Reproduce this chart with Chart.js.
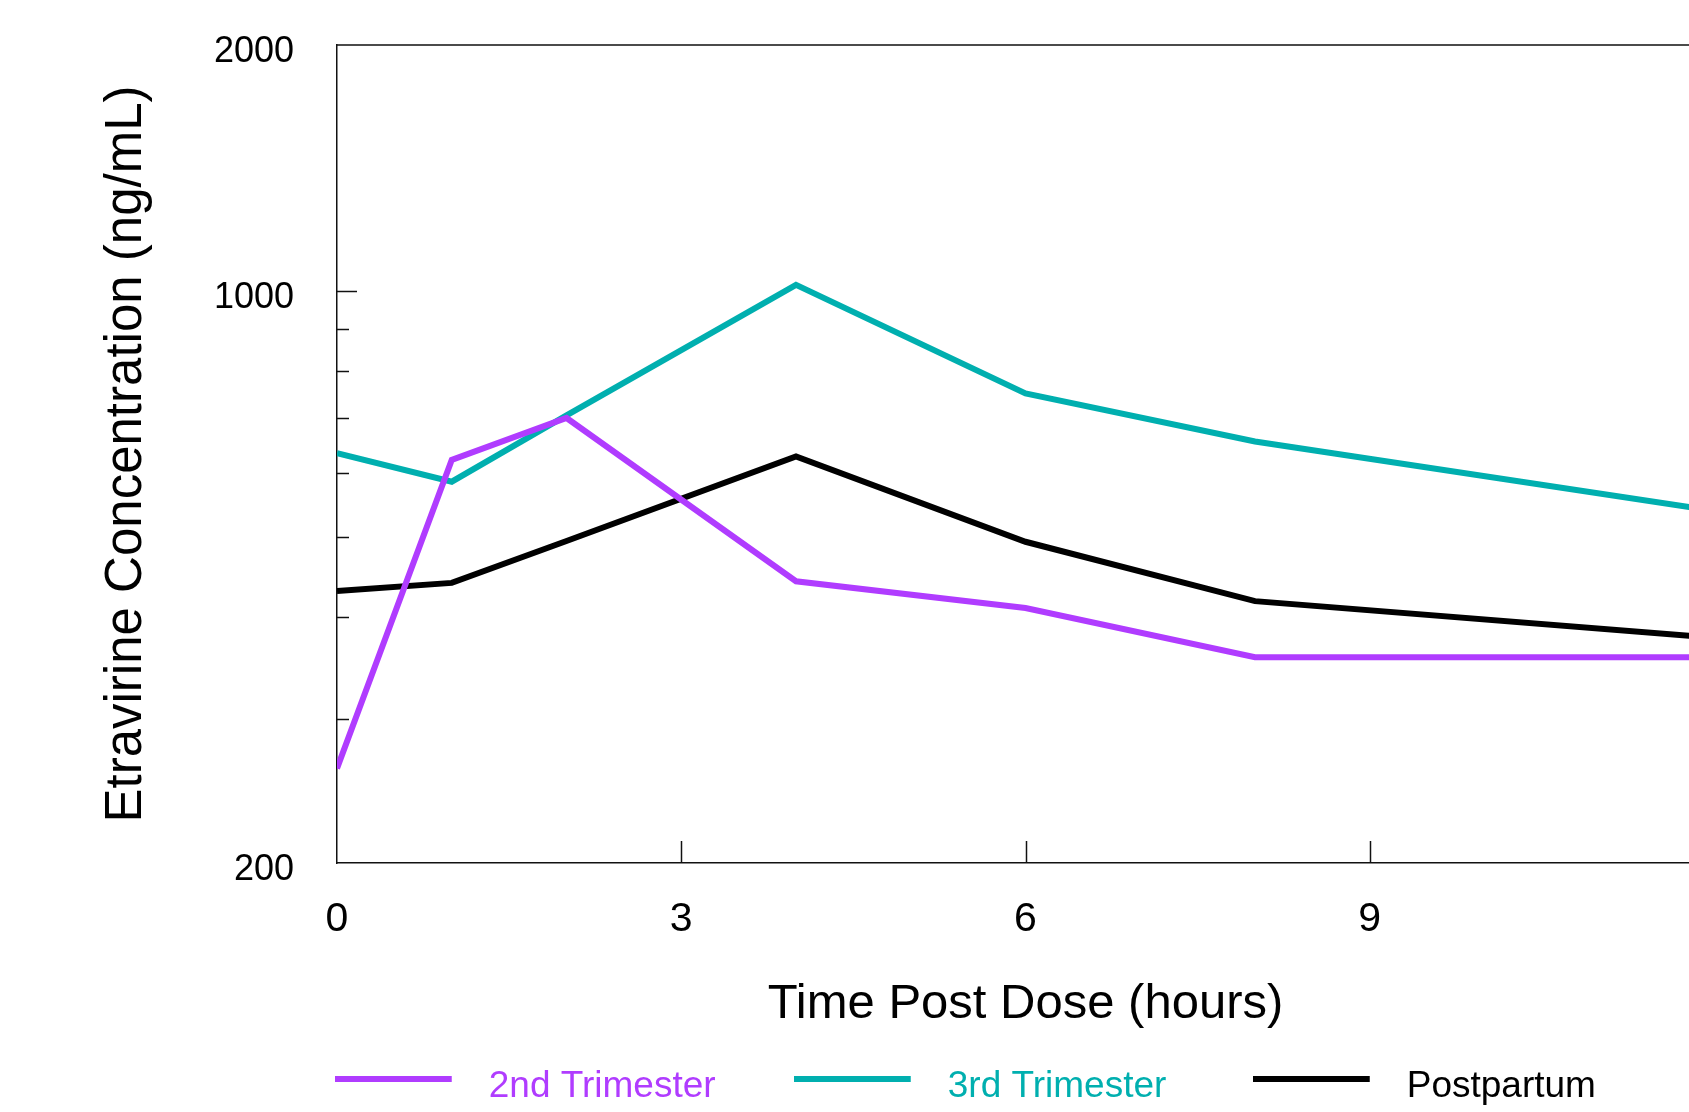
<!DOCTYPE html>
<html><head><meta charset="utf-8">
<script src="https://cdn.jsdelivr.net/npm/chart.js@4/dist/chart.umd.min.js"></script>
<style>html,body{margin:0;padding:0;background:#fff;overflow:hidden;width:1689px;height:1112px}</style>
</head><body>
<canvas id="c" width="1760" height="1112" style="display:block;width:1760px;height:1112px"></canvas>
<script>
const timeHours = [0, 1, 2, 4, 6, 8, 12];
const secondTrimester = [261, 622, 700, 442, 410, 357, 357];
const thirdTrimester = [634, 585, 705, 1018, 750, 655, 539];
const postpartum = [430, 440, 495, 628, 494, 418, 377];
const seriesLabels = ['2nd Trimester', '3rd Trimester', 'Postpartum'];
const seriesColors = ['#B03CFF', '#00AFAF', '#000000'];
const yTickValues = [200, 300, 400, 500, 600, 700, 800, 900, 1000, 2000];
const yLabeledTicks = [200, 1000, 2000];
const xTickValues = [0, 3, 6, 9, 12];
const legendStartHours = [0, 4, 8];

const toPoints = arr => timeHours.map((t, i) => ({x: t, y: arr[i]}));
const FONT = '"Liberation Sans", Arial, sans-serif';

const frameAndLegend = {
  id: 'frameAndLegend',
  afterDraw(chart) {
    const {ctx, chartArea: a, scales: {x, y}} = chart;
    ctx.save();
    ctx.strokeStyle = '#111';
    ctx.lineWidth = 1.5;
    ctx.beginPath();
    ctx.moveTo(a.left, a.top); ctx.lineTo(a.right, a.top); ctx.lineTo(a.right, a.bottom);
    ctx.stroke();
    yTickValues.forEach(v => {
      if (v === 200 || v === 2000) return;
      const py = Math.round(y.getPixelForValue(v)) + 0.5;
      const len = v === 1000 ? 20 : 12;
      ctx.beginPath(); ctx.moveTo(a.left, py); ctx.lineTo(a.left + len, py); ctx.stroke();
    });
    xTickValues.forEach(v => {
      if (v === 0) return;
      const px = Math.round(x.getPixelForValue(v)) + 0.5;
      ctx.beginPath(); ctx.moveTo(px, a.bottom); ctx.lineTo(px, a.bottom - 22); ctx.stroke();
    });
    chart.data.datasets.forEach((ds, i) => {
      const x0 = x.getPixelForValue(legendStartHours[i]) - 2;
      const x1 = x.getPixelForValue(legendStartHours[i] + 1);
      const ly = 1079;
      ctx.strokeStyle = ds.borderColor;
      ctx.lineWidth = 6;
      ctx.lineCap = 'butt';
      ctx.beginPath(); ctx.moveTo(x0, ly); ctx.lineTo(x1, ly); ctx.stroke();
      ctx.fillStyle = ds.borderColor;
      ctx.font = '37px ' + FONT;
      ctx.textBaseline = 'alphabetic';
      ctx.textAlign = 'left';
      ctx.fillText(ds.label, x1 + 37, 1097);
    });
    ctx.restore();
  }
};

const makeDs = (label, arr, color) => ({
  label, data: toPoints(arr), borderColor: color, backgroundColor: color,
  borderWidth: 6, pointRadius: 0, tension: 0, fill: false, borderJoinStyle: 'miter'
});

new Chart(document.getElementById('c'), {
  type: 'line',
  data: {
    datasets: [
      makeDs(seriesLabels[0], secondTrimester, seriesColors[0]),
      makeDs(seriesLabels[1], thirdTrimester, seriesColors[1]),
      makeDs(seriesLabels[2], postpartum, seriesColors[2])
    ]
  },
  options: {
    responsive: false,
    animation: false,
    devicePixelRatio: 1,
    layout: {padding: {top: 45, right: 46, left: 0, bottom: 0}},
    plugins: {legend: {display: false}, tooltip: {enabled: false}},
    scales: {
      x: {
        type: 'linear', min: 0, max: 12,
        afterBuildTicks: s => { s.ticks = xTickValues.map(v => ({value: v})); },
        afterFit: s => { s.height = 249; s.paddingLeft = 0; s.paddingRight = 0; },
        grid: {display: false, drawTicks: false},
        border: {display: true, color: '#111', width: 1.5},
        ticks: {color: '#000', font: {family: FONT, size: 41}, padding: 32, maxRotation: 0, autoSkip: false},
        title: {display: true, text: 'Time Post Dose (hours)', color: '#000',
          font: {family: FONT, size: 49}, padding: {top: 0, bottom: 78}}
      },
      y: {
        type: 'logarithmic', min: 200, max: 2000,
        afterBuildTicks: s => { s.ticks = yTickValues.map(v => ({value: v})); },
        afterFit: s => { s.width = 337; s.paddingTop = 0; s.paddingBottom = 0; },
        grid: {display: false, drawTicks: false},
        border: {display: true, color: '#111', width: 1.5},
        ticks: {color: '#000', font: {family: FONT, size: 36}, padding: 43, labelOffset: 7, autoSkip: false,
          callback: v => yLabeledTicks.includes(v) ? String(v) : ''},
        title: {display: true, text: 'Etravirine Concentration (ng/mL)', color: '#000',
          font: {family: FONT, size: 51}, padding: {top: 96, bottom: 0}}
      }
    }
  },
  plugins: [frameAndLegend]
});
</script>
</body></html>
